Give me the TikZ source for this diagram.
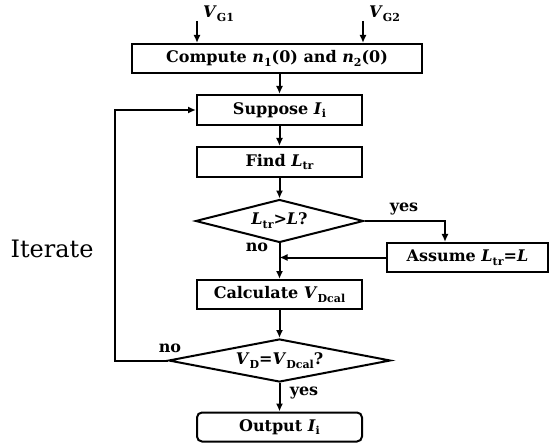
\documentclass[tikz,border=0pt]{standalone}
\usepackage{fontspec}
\setmainfont{DejaVu Serif}
\usetikzlibrary{shapes.geometric,arrows.meta}
\newcommand\mysb[1]{\raisebox{-0.45ex}{\fontsize{11}{12}\selectfont #1}}
\begin{document}
\begin{tikzpicture}[x=1pt,y=-1pt,
  font=\fontsize{16}{18}\selectfont\bfseries,
  box/.style={draw, line width=2pt, rectangle, minimum height=29pt, minimum width=165pt, inner sep=0pt},
  dia/.style={draw, line width=2pt, diamond, inner sep=0pt, minimum height=43pt},
  conn/.style={line width=2pt, -{Latex[length=8pt,width=7pt]}},
  lbl/.style={inner sep=0pt}]
\useasboundingbox (0,0) rectangle (550,444);
\node[box, minimum width=290pt] (comp) at (277,58.5) {Compute \textit{n}\mysb{1}(0) and \textit{n}\mysb{2}(0)};
\node[box, minimum height=30pt] (sup) at (279.5,110) {Suppose \textit{I}\mysb{i}};
\node[box, minimum height=30pt] (find) at (279.5,162) {Find \textit{L}\mysb{tr}};
\node[dia, minimum width=168pt, aspect=3.9] (d1) at (279.5,221) {\textit{L}\mysb{tr}>\textit{L}?};
\node[box, minimum width=161pt] (assume) at (467.5,257.5) {Assume \textit{L}\mysb{tr}=\textit{L}};
\node[box] (calc) at (279.5,294.5) {Calculate \textit{V}\mysb{Dcal}};
\node[dia, minimum width=222pt, aspect=5.1] (d2) at (279.5,360.5) {\textit{V}\mysb{D}=\textit{V}\mysb{Dcal}?};
\node[box, rounded corners=5pt] (out) at (279.5,427) {Output \textit{I}\mysb{i}};
\coordinate (g1) at (197,21);
\coordinate (g2) at (363,21);
\coordinate (ya) at (445,0);
\coordinate (lp) at (115,0);
\node[lbl, anchor=west] (vg1) at (203,14) {\textit{V}\mysb{G1}};
\node[lbl, anchor=west] (vg2) at (369,14) {\textit{V}\mysb{G2}};
\draw[conn] (g1) -- (g1 |- comp.north);
\draw[conn] (g2) -- (g2 |- comp.north);
\draw[conn] (sup.north |- comp.south) -- (sup.north);
\draw[conn] (sup) -- (find);
\draw[conn] (find) -- (d1);
\draw[conn] (d1) -- (calc);
\draw[conn] (d1.east) -- (d1.east -| ya) -- (ya |- assume.north);
\draw[conn] (assume.west) -- (assume.west -| d1.south);
\draw[conn] (calc) -- (d2);
\draw[conn] (d2) -- (out);
\draw[conn] (d2.west) -- (d2.west -| lp) -- (lp |- sup.west) -- (sup.west);
\node[lbl] (yes1) at (404,209) {yes};
\node[lbl] (no1) at (257,247) {no};
\node[lbl] (no2) at (170,348) {no};
\node[lbl] (yes2) at (304,393) {yes};
\node[lbl, font=\fontsize{24}{27}\selectfont] (it) at (52,249) {Iterate};
\end{tikzpicture}
\end{document}
